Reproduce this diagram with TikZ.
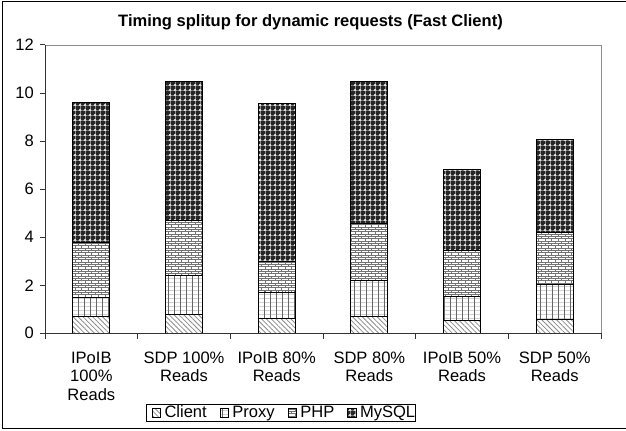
\documentclass[tikz,border=0pt]{standalone}
\usepackage{fontspec}
\setmainfont{Liberation Sans}
\usetikzlibrary{patterns,patterns.meta,positioning}

% brick pattern for the PHP part
\tikzdeclarepattern{
  name=phpbricks,
  type=uncolored,
  bounding box={(-0.3pt,-0.3pt) and (5.3pt,3.8pt)},
  tile size={(5pt,3.5pt)},
  code={
    \draw[line width=0.45pt] (0pt,0pt) -- (5pt,0pt) (0pt,1.75pt) -- (5pt,1.75pt)
      (1.25pt,0pt) -- (1.25pt,1.75pt) (3.75pt,1.75pt) -- (3.75pt,3.5pt);
  }
}

\tikzset{
  bar/.style={draw=black, line width=0.6pt},
  client/.style={bar, pattern={Lines[angle=-45,distance=2.6pt,line width=0.6pt]}, pattern color=black!45},
  proxy/.style={bar, preaction={pattern={Lines[angle=0,distance=3pt,line width=0.3pt]}, pattern color=black!18},
    pattern={Lines[angle=90,distance=4.5pt,line width=0.5pt]}, pattern color=black!60},
  php/.style={bar, pattern=phpbricks, pattern color=black!55},
  mysql/.style={bar, preaction={fill=black!85},
    preaction={pattern={Hatch[distance=3.75pt,line width=0.5pt]}, pattern color=black!45},
    pattern={Dots[radius=0.85pt,distance=3.75pt]}, pattern color=white},
  ticklabel/.style={font=\fontsize{12.4}{13.9}\selectfont, inner sep=0pt},
  legtext/.style={ticklabel, text height=9.4pt, text depth=2.6pt},
  legsq/.style={minimum size=6.5pt, inner sep=0pt},
}

\begin{document}
\begin{tikzpicture}[x=0.75pt,y=0.75pt,yscale=-1,xscale=1,
  declare function={vy(\v)=333.3-24.03*\v; bx(\k)=91.33+92.67*\k;}]
\useasboundingbox (0,0) rectangle (626,430);

% outer frame
\draw[line width=0.9pt] (2.5,1.8) rectangle (628,428.3);

% title
\node[font=\bfseries\fontsize{12.4}{14}\selectfont] (title) at (310.5,22) {Timing splitup for dynamic requests (Fast Client)};

% plot area
\coordinate (o) at (45,333.3);
\coordinate (nw) at (45,45);
\coordinate (ne) at (601,45);
\coordinate (se) at (601,333.3);
\draw[black!45, line width=0.6pt] (nw) -- (ne) -- (se);

% bars: client / proxy / php / mysql
\foreach \k/\c/\p/\h/\m in {0/0.7/1.5/3.78/9.6, 1/0.79/2.4/4.68/10.48, 2/0.63/1.72/2.98/9.58,
  3/0.69/2.2/4.56/10.48, 4/0.54/1.53/3.43/6.82, 5/0.59/2.02/4.18/8.07}{
  \draw[client] ({bx(\k)-18.5},{vy(0)}) rectangle ({bx(\k)+18.5},{vy(\c)});
  \draw[proxy] ({bx(\k)-18.5},{vy(\c)}) rectangle ({bx(\k)+18.5},{vy(\p)});
  \draw[php] ({bx(\k)-18.5},{vy(\p)}) rectangle ({bx(\k)+18.5},{vy(\h)});
  \draw[mysql] ({bx(\k)-18.5},{vy(\h)}) rectangle ({bx(\k)+18.5},{vy(\m)});
}

% axes
\draw[black!80, line width=0.75pt] (nw) -- (o) -- (se);
\foreach \v in {0,2,...,12}{
  \draw[black!80, line width=0.75pt] (40,{vy(\v)}) -- (45,{vy(\v)});
  \node[ticklabel, anchor=east] (y\v) at (34,{vy(\v)}) {\v};
}
\foreach \k in {0,...,6}
  \draw[black!80, line width=0.75pt] ({45+92.67*\k},333.3) -- ({45+92.67*\k},338.5);

% category labels
\foreach \k/\t in {0/{IPoIB\\100\%\\Reads}, 1/{SDP 100\%\\Reads}, 2/{IPoIB 80\%\\Reads},
  3/{SDP 80\%\\Reads}, 4/{IPoIB 50\%\\Reads}, 5/{SDP 50\%\\Reads}}
  \node[ticklabel, align=center, anchor=north] (cat\k) at ({bx(\k)},351.5) {\t};

% legend
\draw[line width=0.6pt] (146,404.8) rectangle (415,421);
\node[legsq, client] (lc) at (156.5,413) {};
\node[legtext, right=2.25pt of lc] (lctext) {Client};
\node[legsq, proxy, right=9.5pt of lctext] (lp) {};
\node[legtext, right=2.25pt of lp] (lptext) {Proxy};
\node[legsq, php, right=9.5pt of lptext] (lh) {};
\node[legtext, right=2.25pt of lh] (lhtext) {PHP};
\node[legsq, mysql, right=9.5pt of lhtext] (lm) {};
\node[legtext, right=2.25pt of lm] (lmtext) {MySQL};
\end{tikzpicture}
\end{document}
